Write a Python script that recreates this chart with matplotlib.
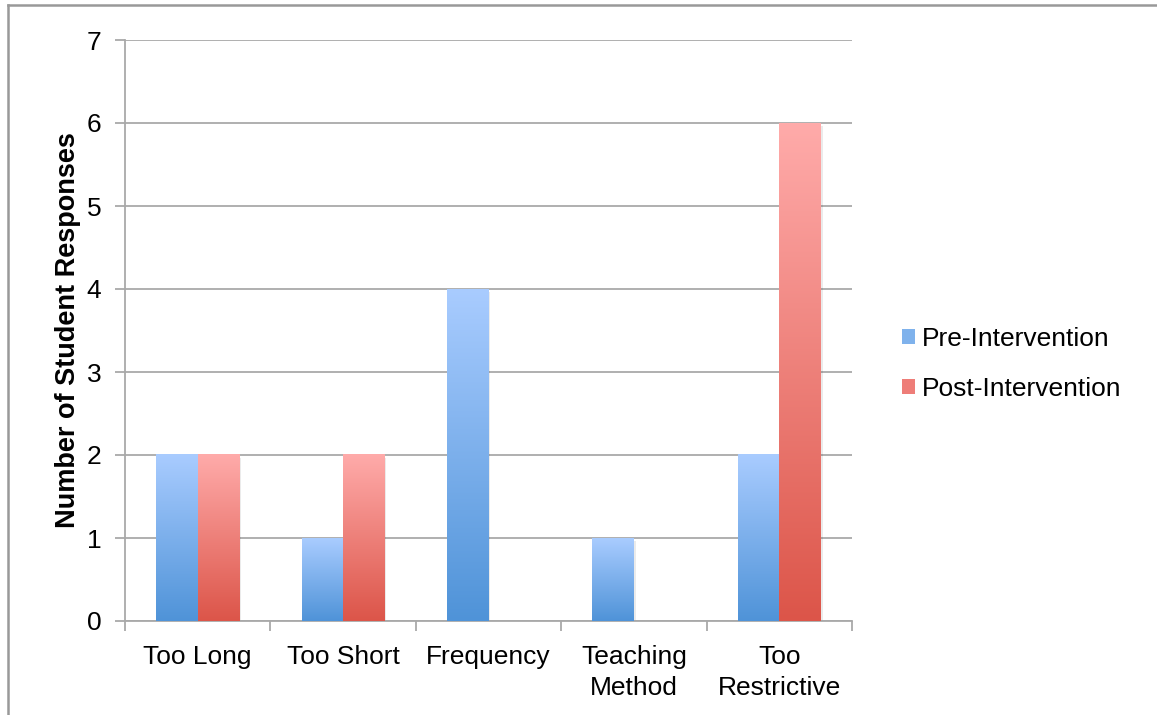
import numpy as np
import matplotlib.pyplot as plt
from matplotlib.colors import LinearSegmentedColormap
from matplotlib.patches import Patch
from matplotlib.lines import Line2D

plt.rcParams['font.family'] = ['Liberation Sans', 'DejaVu Sans']

# data
categories = ["Too Long", "Too Short", "Frequency", "Teaching\nMethod", "Too\nRestrictive"]
pre = [2, 1, 4, 1, 2]
post = [2, 2, 0, 0, 6]
series_names = ["Pre-Intervention", "Post-Intervention"]

# gradient colours (bottom -> top)
blue_cmap = LinearSegmentedColormap.from_list("b", ["#4f93d8", "#a9ccff"])
red_cmap = LinearSegmentedColormap.from_list("r", ["#dc5549", "#ffabaa"])

fig = plt.figure(figsize=(11.57, 7.15), dpi=100)
ax = fig.add_axes([125 / 1157, 1 - 621 / 715, (852 - 125) / 1157, (621 - 40) / 715])

grid_col = "#a9a9a9"
x = np.arange(len(categories))
w = 0.286
grad = np.linspace(0, 1, 256).reshape(-1, 1)

for vals, off, cmap in [(pre, -w / 2, blue_cmap), (post, w / 2, red_cmap)]:
    bars = ax.bar(x + off, vals, w, color="none", zorder=3)
    for b in bars:
        h = b.get_height()
        if h <= 0:
            continue
        x0 = b.get_x()
        # faint shadow
        ax.bar(x0 + b.get_width() / 2 + 0.012, h, b.get_width(), bottom=-0.04,
               color="#000000", alpha=0.08, zorder=2.5, linewidth=0)
        ax.imshow(grad, extent=[x0, x0 + b.get_width(), 0, h], origin="lower",
                  cmap=cmap, aspect="auto", zorder=3, interpolation="bilinear")

ax.set_xlim(-0.5, len(categories) - 0.5)
ax.set_ylim(0, 7)
ax.set_yticks(range(0, 8))
ax.yaxis.grid(True, color=grid_col, linewidth=1.3, zorder=0)
ax.set_axisbelow(True)

ax.set_xticks(x)
ax.set_xticklabels(categories, fontsize=19, linespacing=1.38)
ax.set_xticks(np.arange(-0.5, len(categories)), minor=True)
ax.tick_params(axis="x", which="major", length=0, pad=17)
ax.tick_params(axis="x", which="minor", length=7, color=grid_col, width=1.3)
ax.tick_params(axis="y", length=7, color=grid_col, width=1.3, labelsize=19, pad=10)

for s in ["top", "right"]:
    ax.spines[s].set_visible(False)
for s in ["left", "bottom"]:
    ax.spines[s].set_color(grid_col)
    ax.spines[s].set_linewidth(1.3)

ax.set_ylabel("Number of Student Responses", fontsize=19.5, fontweight="bold", labelpad=4)

handles = [Patch(facecolor="#7fb2ec", edgecolor="none"),
           Patch(facecolor="#ee7d78", edgecolor="none")]
fig.legend(handles, series_names, loc="center left", bbox_to_anchor=(878 / 1157, 1 - 364 / 715),
           frameon=False, fontsize=19, handlelength=0.5, handleheight=0.5,
           handletextpad=0.27, labelspacing=0.97)

# outer chart frame
fig.add_artist(Line2D([8 / 1157, 8 / 1157], [0, 1 - 5 / 715], color="#999999", linewidth=1.8))
fig.add_artist(Line2D([8 / 1157, 1], [1 - 5 / 715, 1 - 5 / 715], color="#999999", linewidth=1.8))

fig.savefig("out.png", dpi=100)
